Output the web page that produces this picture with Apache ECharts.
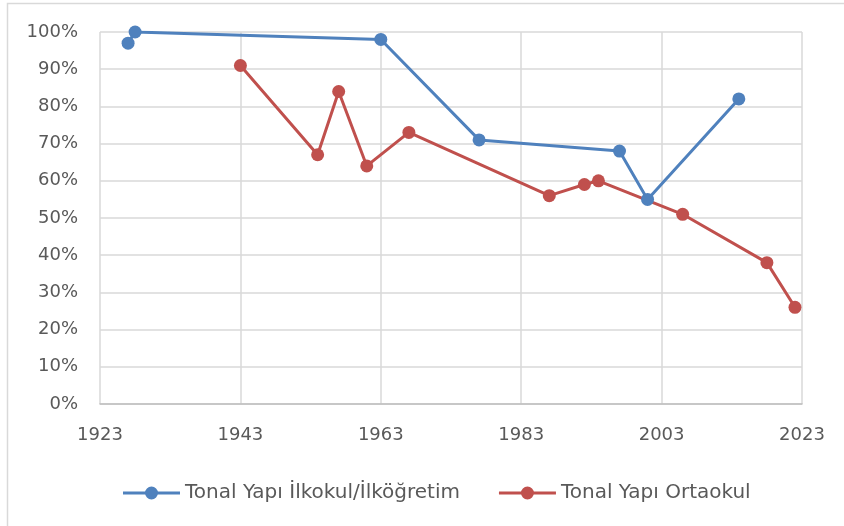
<!DOCTYPE html>
<html><head><meta charset="utf-8">
<script src="https://cdn.jsdelivr.net/npm/echarts@6/dist/echarts.min.js"></script>
<style>html,body{margin:0;padding:0;background:#fff}#c{width:844px;height:526px}</style>
</head><body><div id="c"></div>
<script>
const seriesNames = ["Tonal Yapı İlkokul/İlköğretim", "Tonal Yapı Ortaokul"];
const ilkokulYears = [1927, 1928, 1963, 1977, 1997, 2001, 2014];
const ilkokulValues = [97, 100, 98, 71, 68, 55, 82];
const ortaokulYears = [1943, 1954, 1957, 1961, 1967, 1987, 1992, 1994, 2006, 2018, 2022];
const ortaokulValues = [91, 67, 84, 64, 73, 56, 59, 60, 51, 38, 26];
const colors = ["#4F81BD", "#C0504D"];

const font = "DejaVu Sans";
const legendIcon = 'path://M0,5H23V8H0Z M34,5H57V8H34Z M22,6.5A6.5,6.5 0 0,1 35,6.5A6.5,6.5 0 0,1 22,6.5Z';
const chart = echarts.init(document.getElementById('c'), null, {renderer: 'canvas'});
const zip = (xs, ys) => xs.map((x, i) => [x, ys[i]]);
chart.setOption({
  animation: false,
  backgroundColor: '#fff',
  graphic: [{type: 'rect', shape: {x: 7.5, y: 3.5, width: 900, height: 600}, style: {fill: 'none', stroke: '#D9D9D9', lineWidth: 1.5}, silent: true, z: -1}],
  grid: {left: 100, right: 42, top: 32, bottom: 122, containLabel: false},
  xAxis: {
    type: 'value', min: 1923, max: 2023, interval: 20,
    axisLine: {show: true, lineStyle: {color: '#BFBFBF', width: 1.5}},
    axisTick: {show: false},
    splitLine: {show: true, lineStyle: {color: '#D9D9D9', width: 1.5}},
    axisLabel: {color: '#595959', fontFamily: font, fontSize: 18, margin: 22, formatter: v => String(v)}
  },
  yAxis: {
    type: 'value', min: 0, max: 100, interval: 10,
    axisLine: {show: false}, axisTick: {show: false},
    splitLine: {show: true, lineStyle: {color: '#D9D9D9', width: 1.5}},
    axisLabel: {color: '#595959', fontFamily: font, fontSize: 18, margin: 22, formatter: '{value}%'}
  },
  legend: {
    top: 478, left: 118, itemWidth: 57, itemHeight: 13, itemGap: 39,
    textStyle: {color: '#595959', fontFamily: font, fontSize: 20},
    data: seriesNames.map(n => ({name: n, icon: legendIcon}))
  },
  series: [
    {name: seriesNames[0], type: 'line', data: zip(ilkokulYears, ilkokulValues), color: colors[0],
     symbol: 'circle', symbolSize: 13, lineStyle: {width: 3}, itemStyle: {color: colors[0]}},
    {name: seriesNames[1], type: 'line', data: zip(ortaokulYears, ortaokulValues), color: colors[1],
     symbol: 'circle', symbolSize: 13, lineStyle: {width: 3}, itemStyle: {color: colors[1]}}
  ]
});
</script></body></html>
